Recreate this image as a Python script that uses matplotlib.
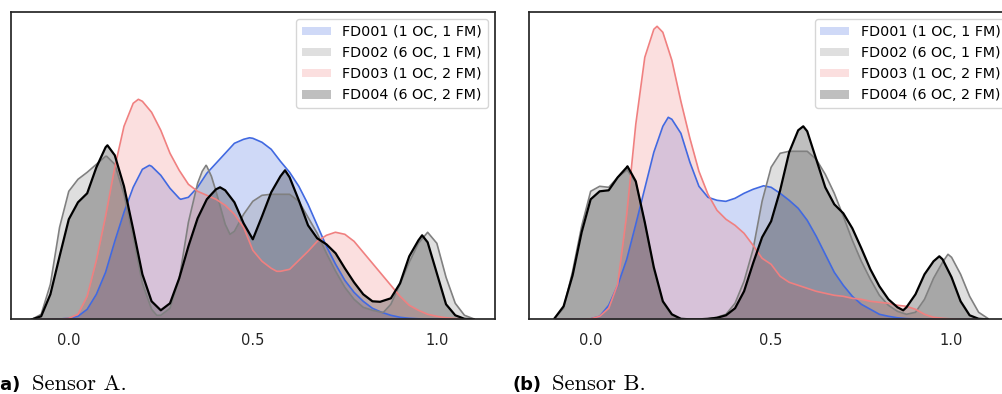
import numpy as np
import matplotlib
matplotlib.use("Agg")
import matplotlib.pyplot as plt
from matplotlib.patches import Patch

plt.rcParams['font.family'] = ['DejaVu Sans']

# sample positions (normalised sensor value)
x = np.round(np.arange(-0.1, 1.1001, 0.025), 3)

labels = ["FD001 (1 OC, 1 FM)", "FD002 (6 OC, 1 FM)",
          "FD003 (1 OC, 2 FM)", "FD004 (6 OC, 2 FM)"]
colors = ["royalblue", "gray", "lightcoral", "black"]

# density (arbitrary units), sensor A
a_fd001 = [0, 0, 0, 0.3, 1, 3, 10, 25, 47, 78, 107, 132, 150, 153, 144, 131,
           121, 122, 132, 146, 156, 166, 176, 180, 181, 177, 170, 158, 147,
           133, 115, 94, 73, 55, 39, 27, 18, 11, 7, 4, 2, 1, 0.5, 0.2, 0, 0,
           0, 0, 0]
a_fd002 = [0, 5, 35, 92, 128, 140, 147, 155, 163, 155, 125, 82, 36, 10, 4, 11,
           40, 97, 136, 153, 128, 95, 88, 105, 118, 124, 125, 125, 125, 118,
           102, 86, 66, 48, 32, 20, 12, 9, 7, 15, 35, 57, 76, 87, 76, 42, 16,
           4, 0.5]
a_fd003 = [0, 0, 0, 0, 1, 5, 23, 59, 103, 152, 193, 216, 218, 207, 189, 166,
           149, 135, 128, 124, 120, 114, 105, 92, 69, 58, 51, 48, 50, 59, 68,
           78, 84, 87, 85, 78, 67, 56, 45, 34, 23, 14, 9, 5, 3, 1.5, 0.7, 0.2,
           0]
a_fd004 = [0, 3, 25, 63, 100, 117, 126, 152, 172, 164, 133, 90, 45, 18, 9, 16,
           41, 73, 101, 120, 130, 129, 117, 96, 80, 103, 127, 143, 142, 119,
           94, 81, 75, 66, 51, 37, 25, 18, 18, 21, 36, 63, 79, 77, 46, 15, 4,
           0.5, 0]

# extra readings at peaks / troughs between the regular samples
a_fd001_ex = ([0.219, 0.304, 0.491], [154, 120, 181.5])
a_fd002_ex = ([0.103, 0.239, 0.3625, 0.373, 0.3875, 0.438, 0.855],
              [163, 4, 148, 154, 143, 85, 7])
a_fd003_ex = ([0.189, 0.565, 0.724], [220, 48, 87])
a_fd004_ex = ([0.105, 0.411, 0.5875, 0.846, 0.96], [174, 132, 149, 17.5, 84])

# sensor B
b_fd001 = [0, 0, 0, 0, 0.5, 3, 14, 34, 60, 95, 131, 167, 193, 200, 186, 157,
           133, 122, 119, 118, 121, 126, 130, 133, 132, 126, 119, 111, 99, 83,
           65, 47, 34, 23, 15, 10, 5, 3, 1.5, 0.7, 0.3, 0, 0, 0, 0, 0, 0, 0, 0]
b_fd002 = [1, 11, 48, 93, 128, 133, 132, 142, 149, 137, 96, 50, 17, 4, 0.5, 0,
           0, 0.5, 2, 5, 16, 38, 70, 118, 152, 166, 168, 168, 168, 160, 145,
           126, 103, 79, 58, 40, 24, 14, 8, 5, 7, 20, 41, 57, 62, 45, 23, 7, 1]
b_fd003 = [0, 0, 0, 0, 0.5, 3, 11, 35, 105, 195, 262, 290, 287, 259, 218, 181,
           148, 125, 109, 100, 94, 86, 74, 61, 55, 43, 37, 34, 31, 28, 26, 24,
           23, 21, 20, 18, 17, 16, 14, 13, 10, 5, 2, 1, 0.3, 0, 0, 0, 0]
b_fd004 = [1, 13, 44, 87, 120, 128, 129, 142, 152, 138, 97, 52, 18, 5, 0.5, 0,
           0, 0.5, 1.5, 4, 11, 28, 56, 82, 98, 129, 167, 189, 188, 160, 132,
           115, 106, 91, 71, 50, 33, 20, 12, 12, 25, 45, 58, 60, 42, 18, 4,
           0.5, 0]

b_fd001_ex = ([0.215, 0.373, 0.479], [202, 118, 133.5])
b_fd002_ex = ([0.1, 0.875, 0.99], [150, 5, 65])
b_fd003_ex = ([0.184], [293])
b_fd004_ex = ([0.102, 0.589, 0.866, 0.966], [153, 193, 9, 63])

W, H = 1002, 394
fig = plt.figure(figsize=(W / 100, H / 100), dpi=100)
bottom = (H - 319.3) / H
height = 307.3 / H
ax1 = fig.add_axes([11 / W, bottom, 484 / W, height])
ax2 = fig.add_axes([529.3 / W, bottom, 484 / W, height])


def merged(y, extra):
    xs = np.concatenate([x, extra[0]])
    ys = np.concatenate([y, extra[1]])
    order = np.argsort(xs, kind='stable')
    return xs[order], ys[order]


def draw(ax, series, extras, xlim):
    for y, ex, c in zip(series, extras, colors):
        xs, ys = merged(y, ex)
        ax.fill_between(xs, ys, color=c, alpha=0.25, lw=0)
        ax.plot(xs, ys, color=c, lw=1.6 if c == "black" else 1.2,
                solid_joinstyle='round')
    ax.set_xlim(*xlim)
    ax.set_ylim(0, 307.3)
    ax.set_yticks([])
    ax.set_xticks([0, 0.5, 1.0])
    ax.set_xticklabels(["0.0", "0.5", "1.0"])
    ax.tick_params(axis='x', length=0, pad=10, labelsize=10.5, colors='#262626')
    for s in ax.spines.values():
        s.set_color('#262626')
        s.set_linewidth(1.25)
    handles = [Patch(facecolor=c, edgecolor='none', alpha=0.25) for c in colors]
    ax.legend(handles, labels, loc='upper right', fontsize=10.3,
              handleheight=0.55, edgecolor='#cccccc')


draw(ax1, [a_fd001, a_fd002, a_fd003, a_fd004],
     [a_fd001_ex, a_fd002_ex, a_fd003_ex, a_fd004_ex], (-0.157, 1.158))
draw(ax2, [b_fd001, b_fd002, b_fd003, b_fd004],
     [b_fd001_ex, b_fd002_ex, b_fd003_ex, b_fd004_ex], (-0.170, 1.171))

serif = ['cmr10', 'DejaVu Serif']
yb = 3.5 / H
fig.text(-7 / W, yb, "(a)", fontsize=12.8, fontweight='bold', va='baseline')
fig.text(32 / W, yb, "Sensor A.", fontsize=16.3, family=serif, va='baseline')
fig.text(512.7 / W, yb, "(b)", fontsize=12.8, fontweight='bold', va='baseline')
fig.text(551.7 / W, yb, "Sensor B.", fontsize=16.3, family=serif, va='baseline')

fig.savefig("out.png", dpi=100)
